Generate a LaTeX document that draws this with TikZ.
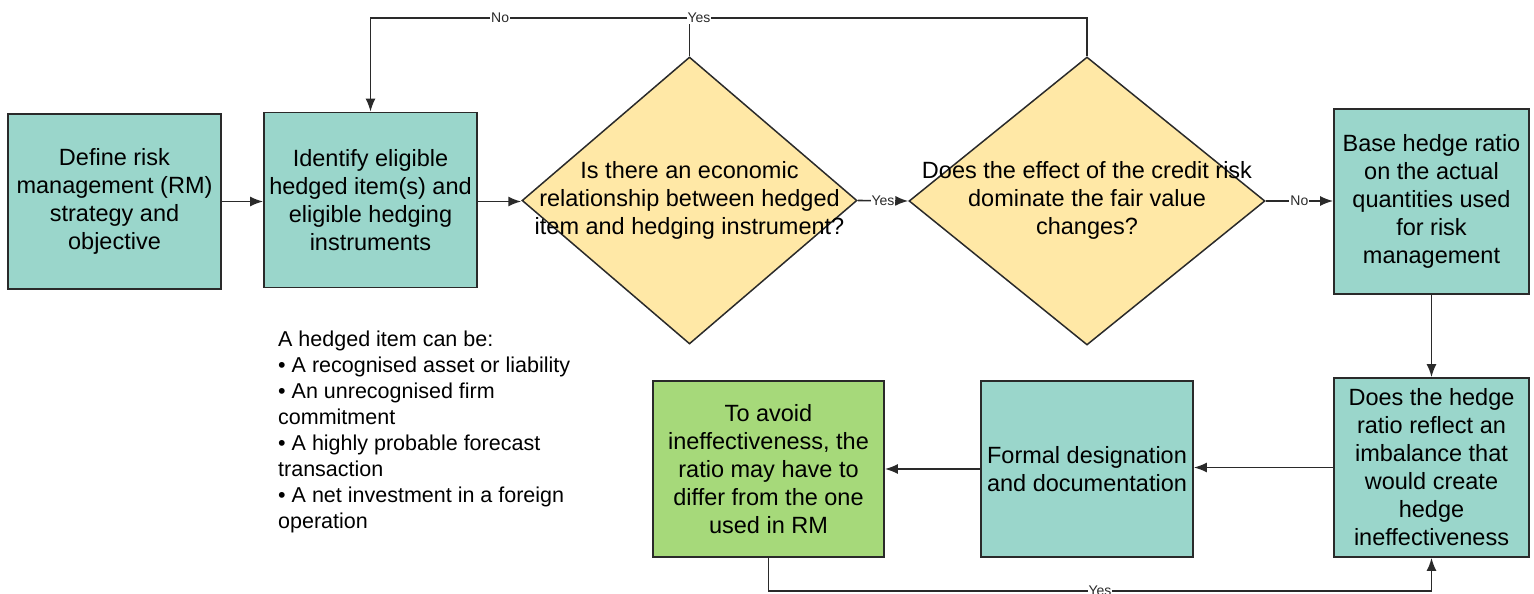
\documentclass[tikz,border=0pt]{standalone}
\usepackage{fontspec}
\setmainfont{Liberation Sans}
\usetikzlibrary{arrows.meta,shapes.geometric}
\definecolor{boxteal}{HTML}{9AD6CB}
\definecolor{diayellow}{HTML}{FFE8A6}
\definecolor{boxgreen}{HTML}{A6D97A}
\definecolor{lineC}{HTML}{2A2A2A}
\begin{document}
\begin{tikzpicture}[x=1pt,y=-1pt,
  proc/.style={draw=lineC, line width=1.8pt, fill=boxteal, align=center,
    font=\fontsize{23.5}{28}\selectfont, inner sep=0pt},
  greenbox/.style={proc, fill=boxgreen},
  dia/.style={draw=lineC, line width=1.5pt, fill=diayellow, diamond, inner sep=0pt},
  dtext/.style={align=center, font=\fontsize{23.5}{28}\selectfont, inner sep=0pt},
  arr/.style={draw=lineC, line width=1.6pt, -{Latex[length=13pt,width=10pt]}},
  conn/.style={draw=lineC, line width=1.6pt},
  lbl/.style={font=\fontsize{14}{16}\selectfont, fill=white, inner sep=1pt, text=lineC}]
\useasboundingbox (0,0) rectangle (1534,594);

% boxes
\node[proc, minimum width=213pt, minimum height=175pt] (b1) at (114.5,201.5)
  {Define risk\\management (RM)\\strategy and\\objective};
\node[proc, minimum width=213pt, minimum height=175pt] (b2) at (370.5,200)
  {Identify eligible\\hedged item(s) and\\eligible hedging\\instruments};
\node[dia, minimum width=335pt, minimum height=287pt] (d1) at (689.5,200.5) {};
\node[dtext] (t1) at (689.5,200)
  {Is there an economic\\relationship between hedged\\item and hedging instrument?};
\node[dia, minimum width=356pt, minimum height=288pt] (d2) at (1087,201) {};
\node[dtext] (t2) at (1087,200)
  {Does the effect of the credit risk\\dominate the fair value\\changes?};
\node[proc, minimum width=195pt, minimum height=185pt] (b3) at (1431.5,201.5)
  {Base hedge ratio\\on the actual\\quantities used\\for risk\\management};
\node[proc, minimum width=195pt, minimum height=179pt] (b4) at (1431.5,467.5)
  {Does the hedge\\ratio reflect an\\imbalance that\\would create\\hedge\\ineffectiveness};
\node[proc, minimum width=212pt, minimum height=176pt] (b5) at (1087,469)
  {Formal designation\\and documentation};
\node[greenbox, minimum width=231pt, minimum height=176pt] (b6) at (768.5,469)
  {To avoid\\ineffectiveness, the\\ratio may have to\\differ from the one\\used in RM};

% note
\node[anchor=north west, align=left, inner sep=0pt,
  font=\fontsize{21.5}{26}\selectfont] (note) at (278,331)
  {A hedged item can be:\\
   • A recognised asset or liability\\
   • An unrecognised firm\\
   commitment\\
   • A highly probable forecast\\
   transaction\\
   • A net investment in a foreign\\
   operation};

% coordinates for loops
\coordinate (tr) at (1087,18);
\coordinate (tm) at (689.5,18);
\coordinate (tl) at (370.5,18);
\coordinate (bb) at (1431.5,591);

% connectors
\draw[arr] (b1.east |- 0,201.5) -- (b2.west |- 0,201.5);
\draw[arr] (b2.east |- 0,201.5) -- (d1.west |- 0,201.5);
\draw[arr] (d1.east) -- node[lbl]{Yes} (d2.west);
\draw[arr] (d2.east) -- node[lbl]{No} (d2.east -| b3.west);
\draw[arr] (d2.north) -- (tr) -- node[lbl, pos=0.819]{No} (tl) -- (b2.north);
\draw[conn] (d1.north) -- (tm);
\node[lbl] (yeslbl) at (699,18) {Yes};
\draw[arr] (b3.south) -- (b4.north);
\draw[arr] (b4.west) -- (b4.west -| b5.east);
\draw[arr] (b5.west) -- (b5.west -| b6.east);
\draw[arr] (b6.south) |- node[lbl, pos=0.75]{Yes} (bb) -- (b4.south);
\end{tikzpicture}
\end{document}
